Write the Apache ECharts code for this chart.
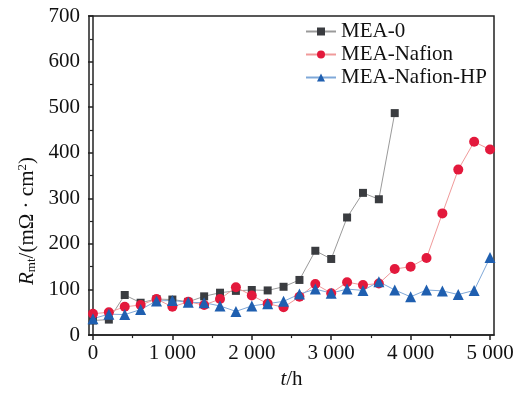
<!DOCTYPE html>
<html>
<head>
<meta charset="utf-8">
<script src="https://cdn.jsdelivr.net/npm/echarts@6/dist/echarts.min.js"></script>
<style>
html,body{margin:0;padding:0;background:#fff;}
#chart{width:517px;height:395px;}
</style>
</head>
<body>
<div id="chart"></div>
<script>
// ---- data ----
var hours = [0,200,400,600,800,1000,1200,1400,1600,1800,2000,2200,2400,2600,2800,3000,3200,3400,3600,3800,4000,4200,4400,4600,4800,5000];
var seriesNames = ['MEA-0','MEA-Nafion','MEA-Nafion-HP'];
var mea0 = [32,34,88,71,79,78,73,85,93,97,99,98,106,121,185,167,258,312,298,487];
var meaNafion = [47,50,62,66,79,62,73,66,79,105,87,69,61,84,112,92,116,110,113,145,150,169,267,363,424,407];
var meaNafionHP = [36,46,45,56,75,76,72,71,64,52,64,69,74,90,101,92,101,98,117,99,84,99,97,89,98,170];
var xTickValues = [0,1000,2000,3000,4000,5000];
var xTickLabels = ['0','1 000','2 000','3 000','4 000','5 000'];
var xMinorTicks = [500,1500,2500,3500,4500];

function pairs(xs, ys){ return ys.map(function(v,i){ return [xs[i], v]; }); }

var FONT = 'Liberation Serif, Times New Roman, serif';
var FS = 21;
var chart = echarts.init(document.getElementById('chart'), null, {renderer:'canvas'});
chart.setOption({
  animation:false,
  backgroundColor:'#fff',
  grid:{left:89,right:23,top:16,bottom:53,show:true,borderColor:'#222',borderWidth:1.5,backgroundColor:'transparent'},
  legend:{
    orient:'vertical', left:300, top:16, itemWidth:30, itemHeight:10, itemGap:2,
    textStyle:{fontFamily:FONT,fontSize:FS,color:'#111'},
    data:seriesNames
  },
  xAxis:[{
    type:'value', min:-50, max:5050,
    axisLine:{show:true,onZero:false,lineStyle:{color:'#222',width:1.5}},
    axisTick:{show:true,customValues:xTickValues,length:5,lineStyle:{color:'#222',width:1.5}},
    axisLabel:{customValues:xTickValues,margin:8,fontFamily:FONT,fontSize:FS,color:'#111',
      formatter:function(v){ var i = xTickValues.indexOf(v); return i>=0 ? xTickLabels[i] : ''; }},
    splitLine:{show:false},
    name:'{i|t}/h', nameLocation:'middle', nameGap:32,
    nameTextStyle:{fontFamily:FONT,fontSize:FS,color:'#111',rich:{i:{fontFamily:FONT,fontSize:FS,fontStyle:'italic',color:'#111'}}}
  },{
    type:'value', min:-50, max:5050, position:'bottom',
    axisLine:{show:false},
    axisTick:{show:true,customValues:xMinorTicks,length:3,lineStyle:{color:'#222',width:1.2}},
    axisLabel:{show:false}, splitLine:{show:false}
  }],
  yAxis:{
    type:'value', min:0, max:700, interval:100,
    axisLine:{show:true,lineStyle:{color:'#222',width:1.5}},
    axisTick:{show:true,length:5,lineStyle:{color:'#222',width:1.5}},
    minorTick:{show:true,splitNumber:2,length:3,lineStyle:{color:'#222',width:1.2}},
    axisLabel:{margin:9,fontFamily:FONT,fontSize:FS,color:'#111'},
    splitLine:{show:false}
  },
  graphic:[{
    type:'text', x:27, y:221, rotation:Math.PI/2,
    style:{
      text:'{i|R}{s|mt}/(mΩ · cm{p|2})',
      font:FS + 'px ' + FONT, fill:'#111', align:'center', verticalAlign:'middle',
      rich:{
        i:{fontFamily:FONT,fontSize:FS,fontStyle:'italic',fill:'#111',height:22},
        s:{fontFamily:FONT,fontSize:13,fill:'#111',verticalAlign:'bottom',padding:[6,0,0,0]},
        p:{fontFamily:FONT,fontSize:13,fill:'#111',verticalAlign:'top',padding:[0,0,6,0]}
      }
    }
  }],
  series:[{
    name:seriesNames[0], type:'line', data:pairs(hours, mea0),
    symbol:'rect', symbolSize:8,
    itemStyle:{color:'#3a3c40'}, lineStyle:{color:'#9a9a9a',width:1}
  },{
    name:seriesNames[1], type:'line', data:pairs(hours, meaNafion),
    symbol:'circle', symbolSize:10,
    itemStyle:{color:'#e3193c'}, lineStyle:{color:'#f09a9a',width:1}
  },{
    name:seriesNames[2], type:'line', data:pairs(hours, meaNafionHP),
    symbol:'triangle', symbolSize:11,
    itemStyle:{color:'#1f5fb0'}, lineStyle:{color:'#7fa8d8',width:1}
  }]
});
</script>
</body>
</html>
